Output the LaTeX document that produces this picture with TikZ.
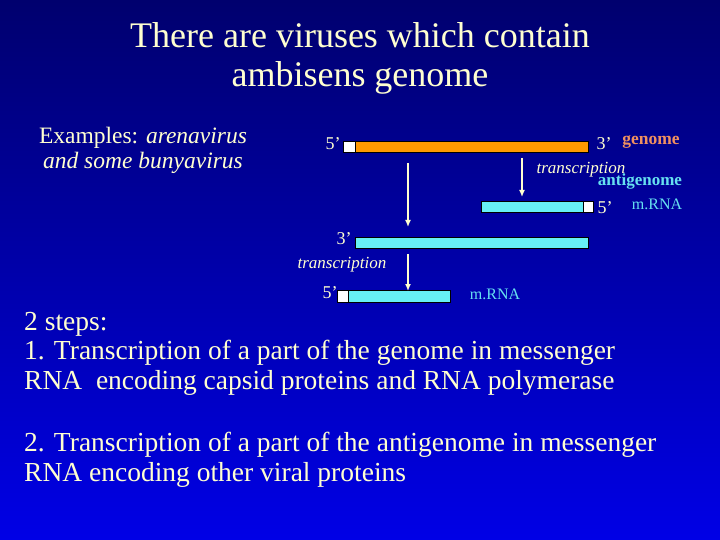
\documentclass[tikz,border=0pt]{standalone}
\usepackage{fontspec}
\usetikzlibrary{arrows.meta}
\setmainfont{Liberation Serif}
\begin{document}
\begin{tikzpicture}[x=1pt,y=-1pt,
 txt/.style={text=yel,inner sep=0pt},
 cy/.style={fill=cyanbar,draw=black,line width=0.4pt},
 wb/.style={fill=white,draw=black,line width=0.4pt},
 arr/.style={draw=yel,line width=1.5pt,-{Latex[length=7pt,width=6pt]}}]
\definecolor{yel}{HTML}{FFFFD0}
\definecolor{cyanbar}{HTML}{66F0F5}
\definecolor{orangebar}{HTML}{FF9900}
\definecolor{genc}{HTML}{F09060}
\definecolor{mrc}{HTML}{66E0F0}
\useasboundingbox (0,0) rectangle (720,540);
\shade[top color={rgb,255:red,0;green,0;blue,110},bottom color={rgb,255:red,0;green,0;blue,230}] (0,0) rectangle (720,540);
\node[txt,font=\fontsize{36}{39}\selectfont,align=center] (title) at (360,58) {There are viruses which contain\\ambisens genome};
\node[txt,font=\fontsize{23.5}{25}\selectfont,align=center] (ex) at (143,150) {Examples: \textit{arenavirus}\\\textit{and some bunyavirus}};
% genome
\node[wb,minimum width=12pt,minimum height=11pt,inner sep=0pt] (g5) at (349,146.5) {};
\node[fill=orangebar,draw=black,line width=0.4pt,minimum width=233pt,minimum height=11pt,inner sep=0pt,anchor=west] (gen) at (g5.east) {};
\node[txt,font=\fontsize{18}{19}\selectfont] (l5a) at (333,144) {5’};
\node[txt,font=\fontsize{18}{19}\selectfont] (l3a) at (604,144) {3’};
\node[txt,text=genc,font=\bfseries\fontsize{17.5}{18}\selectfont] (genl) at (651,142) {genome};
% right mRNA
\node[cy,minimum width=102pt,minimum height=11pt,inner sep=0pt] (m1) at (532,206.5) {};
\node[wb,minimum width=10pt,minimum height=11pt,inner sep=0pt,anchor=west] (m1w) at (m1.east) {};
\node[txt,font=\fontsize{18}{19}\selectfont] (l5b) at (605,208) {5’};
\node[txt,text=mrc,font=\fontsize{16}{18}\selectfont] (mr1) at (657,204) {m.RNA};
\node[txt,font=\itshape\fontsize{17}{17}\selectfont] (tr1) at (581,170) {transcription};
\node[txt,text=mrc,font=\bfseries\fontsize{17}{18}\selectfont] (ag) at (640,181) {antigenome};
% antigenome
\node[cy,minimum width=233pt,minimum height=11pt,inner sep=0pt] (anti) at (471.5,242.5) {};
\node[txt,font=\fontsize{18}{19}\selectfont] (l3b) at (344,239) {3’};
% lower mRNA
\node[wb,minimum width=11pt,minimum height=12pt,inner sep=0pt] (m2w) at (342.5,296) {};
\node[cy,minimum width=102pt,minimum height=12pt,inner sep=0pt,anchor=west] (m2) at (m2w.east) {};
\node[txt,font=\fontsize{18}{19}\selectfont] (l5c) at (330,293) {5’};
\node[txt,text=mrc,font=\fontsize{16}{18}\selectfont] (mr2) at (495,294) {m.RNA};
\node[txt,font=\itshape\fontsize{17}{17}\selectfont] (tr2) at (342,265) {transcription};
% arrows
\coordinate (a1s) at (408,163); \coordinate (a1e) at (408,227);
\coordinate (a2s) at (522,158); \coordinate (a2e) at (522,197);
\coordinate (a3s) at (408,254); \coordinate (a3e) at (408,291);
\draw[arr] (a1s) -- (a1e);
\draw[arr] (a2s) -- (a2e);
\draw[arr] (a3s) -- (a3e);
% body text
\node[txt,font=\fontsize{27.5}{29.5}\selectfont,align=left,anchor=north west] (steps) at (24,312) {2 steps:\\1. Transcription of a part of the genome in messenger\\RNA\ \ encoding capsid proteins and RNA polymerase};
\node[txt,font=\fontsize{27.5}{29.5}\selectfont,align=left,anchor=north west] (step2) at (24,432) {2. Transcription of a part of the antigenome in messenger\\RNA encoding other viral proteins};
\end{tikzpicture}
\end{document}
